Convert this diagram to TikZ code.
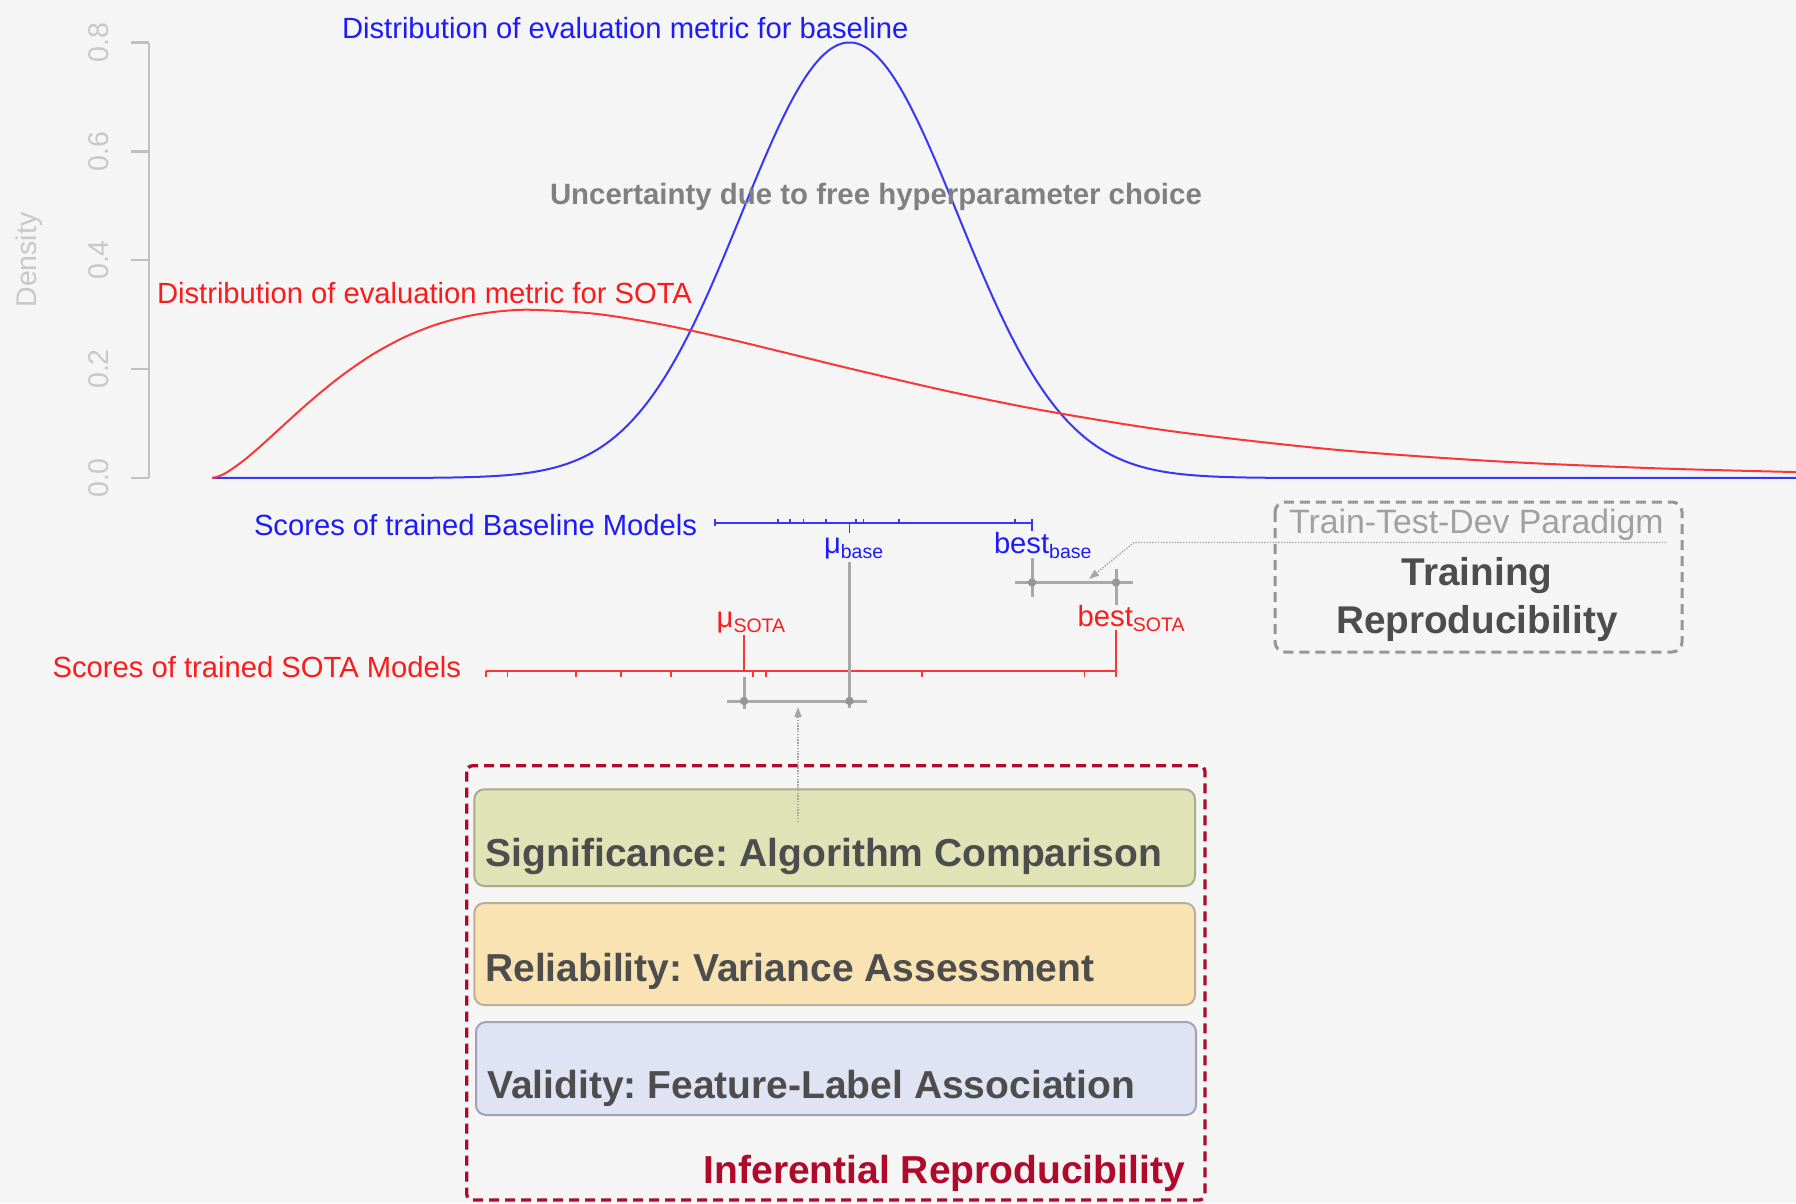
\documentclass[tikz,border=0pt]{standalone}
\usepackage{fontspec}
\setmainfont{Liberation Sans}
\usetikzlibrary{arrows.meta}
\frenchspacing
\definecolor{bgc}{RGB}{245,245,245}
\definecolor{blueT}{RGB}{28,28,250}
\definecolor{redT}{RGB}{250,28,28}
\definecolor{blueL}{RGB}{55,55,250}
\definecolor{redL}{RGB}{250,55,55}
\definecolor{axisc}{RGB}{192,192,192}
\definecolor{axist}{RGB}{200,200,200}
\definecolor{uncc}{RGB}{128,128,128}
\definecolor{diffc}{RGB}{168,168,168}
\definecolor{dotc}{RGB}{150,150,150}
\definecolor{arrc}{RGB}{165,165,165}
\definecolor{darkt}{RGB}{77,77,77}
\definecolor{paradc}{RGB}{160,160,160}
\definecolor{infc}{RGB}{176,10,42}
\definecolor{sigfill}{RGB}{223,227,181}
\definecolor{sigdraw}{RGB}{168,171,140}
\definecolor{relfill}{RGB}{249,227,179}
\definecolor{reldraw}{RGB}{185,176,150}
\definecolor{valfill}{RGB}{224,227,243}
\definecolor{valdraw}{RGB}{160,163,180}
\definecolor{trainc}{RGB}{150,150,150}
\newcommand\myfs[1]{\fontsize{#1}{#1}\selectfont}
\begin{document}
\begin{tikzpicture}[x=1pt,y=-1pt,
  txt/.style={inner sep=0pt, outer sep=0pt, font=\myfs{29.2}},
  axlab/.style={inner sep=0pt, text=axist, font=\myfs{28.5}, rotate=90, anchor=base},
  axisline/.style={draw=axisc, line width=2.5pt},
  bluecurve/.style={draw=blueL, line width=2pt},
  redcurve/.style={draw=redL, line width=2pt},
  bluescore/.style={draw=blueL, line width=2.5pt},
  redscore/.style={draw=redL, line width=2.5pt},
  rugtick/.style={line width=1.6pt},
  diffline/.style={draw=diffc, line width=3pt},
  diffdot/.style={fill=dotc},
  dotarrow/.style={draw=arrc, line width=1.4pt, dash pattern=on 1.4pt off 1.4pt, -{Triangle[length=10pt,width=7pt]}},
  layerbox/.style={rounded corners=10pt, line width=2pt},
  boxtxt/.style={inner sep=0pt, font=\myfs{39}\bfseries, text=darkt, anchor=base west},
]
\useasboundingbox (0,0) rectangle (1796,1203);
\fill[bgc] (0,0) rectangle (1796,1203);

% ---------------- axis
\coordinate (ax0) at (149,478);
\coordinate (ax8) at (149,42.5);
\draw[axisline] (ax0) -- (ax8);
\foreach \v/\yy in {0.0/478,0.2/369,0.4/260,0.6/151.3,0.8/42.5}{
  \draw[axisline] (131,\yy) -- (149,\yy);
  \node[axlab] at (108,\yy) {\v};
}
\node[axlab] (dens) at (36.5,260) {Density};

% ---------------- curves
\draw[bluecurve] plot[domain=212:1796, samples=500]
  (\x, {478 - 435.5*exp(-0.5*min(((\x-849.5)/108)*((\x-849.5)/108), 18))});
\draw[redcurve] plot[smooth, tension=0.5] coordinates {
  (212,478) (218.4,476.46) (228.05,471.63) (244.1,460.17) (260.15,446.51)
  (276.2,431.93) (308.3,402.90) (340.4,376.6) (372.5,354.5) (404.6,337.1)
  (436.7,324.4) (468.8,315.9) (500.9,311.2) (533,309.8) (597.2,314.0)
  (661.4,324.4) (725.6,338.3) (789.8,353.8) (854,369.5) (950.3,391.75)
  (1046.6,411.07) (1175,431.65) (1335.5,449.73) (1496,461.27)
  (1656.5,468.31) (1796,472.06)};

% ---------------- titles
\node[txt, text=blueT, anchor=base west] (btitle) at (342,38) {Distribution of evaluation metric for baseline};
\node[txt, text=redT, anchor=base west] (rtitle) at (157,303) {Distribution of evaluation metric for SOTA};
\node[txt, text=uncc, anchor=base west, font=\myfs{29.4}\bfseries] (unc) at (550,204) {Uncertainty due to free hyperparameter choice};

% ---------------- baseline scores
\node[txt, text=blueT, anchor=base west] (bscores) at (254,535) {Scores of trained Baseline Models};
\coordinate (bL) at (715,523);
\coordinate (bR) at (1032,523);
\draw[bluescore] (bL) -- (bR);
\foreach \t in {777.7,790,803.3,825.7,855.7,863.3,899,1015}{
  \draw[bluescore, rugtick] (\t,523) -- (\t,519);
}
\draw[bluescore, rugtick] (715,519) -- (715,526);
\draw[bluescore, rugtick] (1032,519) -- (1032,531);
\draw[bluescore, rugtick] (849.5,523) -- (849.5,533);
\node[txt, text=blueT, anchor=base west] (mubase) at (824,553) {μ\raisebox{-5.5pt}{\myfs{19.5}base}};
\node[txt, text=blueT, anchor=base west] (bestbase) at (994,553) {best\raisebox{-5.5pt}{\myfs{19.5}base}};

% ---------------- SOTA scores
\node[txt, text=redT, anchor=base west] (sscores) at (52.6,677) {Scores of trained SOTA Models};
\coordinate (sL) at (486,671);
\coordinate (sR) at (1116,671);
\draw[redscore] (sL) -- (sR);
\foreach \t in {486,507.3,575.7,621,671,752.7,766,922,1084.5}{
  \draw[redscore, rugtick] (\t,671) -- (\t,676.5);
}
\node[txt, text=redT, anchor=base west] (musota) at (716.7,627) {μ\raisebox{-5.5pt}{\myfs{19.5}SOTA}};
\node[txt, text=redT, anchor=base west] (bestsota) at (1077.7,626) {best\raisebox{-5pt}{\myfs{19.5}SOTA}};
\coordinate (musotaTop) at (744,635);
\coordinate (musotaBot) at (744,671);
\draw[redscore] (musotaTop) -- (musotaBot);
\coordinate (bsTop) at (1116,630);
\coordinate (bsBot) at (1116,676.5);
\draw[redscore] (bsTop) -- (bsBot);

% ---------------- difference markers (means)
\coordinate (gmb1) at (849.5,562);
\coordinate (gmb2) at (849.5,708);
\coordinate (gms1) at (744,677);
\coordinate (gms2) at (744,709);
\coordinate (dmL) at (727,701);
\coordinate (dmR) at (867,701);
\draw[diffline] (gmb1) -- (gmb2);
\draw[diffline] (gms1) -- (gms2);
\draw[diffline] (dmL) -- (dmR);
\fill[diffdot] (744,701) circle (4.2);
\fill[diffdot] (849.5,701) circle (4.2);

% ---------------- difference markers (best)
\coordinate (gbb1) at (1032,558);
\coordinate (gbb2) at (1032,597);
\coordinate (gbs1) at (1116,569);
\coordinate (gbs2) at (1116,605);
\coordinate (dbL) at (1015,582.5);
\coordinate (dbR) at (1133,582.5);
\draw[diffline] (gbb1) -- (gbb2);
\draw[diffline] (gbs1) -- (gbs2);
\draw[diffline] (dbL) -- (dbR);
\fill[diffdot] (1032,582.5) circle (4.2);
\fill[diffdot] (1116,582.5) circle (4.2);

% ---------------- training reproducibility box
\draw[draw=trainc, line width=3pt, dash pattern=on 10pt off 6pt, rounded corners=10pt] (1275,502) rectangle (1682,652);
\node[inner sep=0pt, text=paradc, font=\myfs{33.8}, anchor=base west] (parad) at (1289,533) {Train-Test-Dev Paradigm};
\node[inner sep=0pt, text=darkt, font=\myfs{38.7}\bfseries, anchor=base] (trainA) at (1477,585) {Training};
\node[inner sep=0pt, text=darkt, font=\myfs{38.7}\bfseries, anchor=base] (trainB) at (1477,633) {Reproducibility};
\coordinate (tr1) at (1666,542.5);
\coordinate (tr2) at (1134,542.5);
\coordinate (tr3) at (1089,579);
\draw[dotarrow] (tr1) -- (tr2) -- (tr3);

% ---------------- inferential reproducibility
\draw[draw=infc, line width=3.3pt, dash pattern=on 10pt off 6pt, rounded corners=6pt] (466.7,765.7) rectangle (1205,1200);
\draw[layerbox, fill=sigfill, draw=sigdraw] (474.3,789.3) rectangle (1195,886);
\draw[layerbox, fill=relfill, draw=reldraw] (474.3,903) rectangle (1195,1005);
\draw[layerbox, fill=valfill, draw=valdraw] (476,1022) rectangle (1196,1115);
\node[boxtxt] (sig) at (485.7,866.7) {Significance: Algorithm Comparison};
\node[boxtxt] (rel) at (485,981.7) {Reliability: Variance Assessment};
\node[boxtxt] (val) at (487,1098.3) {Validity: Feature-Label Association};
\node[inner sep=0pt, text=infc, font=\myfs{39}\bfseries, anchor=base east] (infer) at (1185,1183) {Inferential Reproducibility};
\coordinate (sigArr) at (798,822);
\coordinate (muDiff) at (798,707);
\draw[dotarrow] (sigArr) -- (muDiff);
\end{tikzpicture}
\end{document}
